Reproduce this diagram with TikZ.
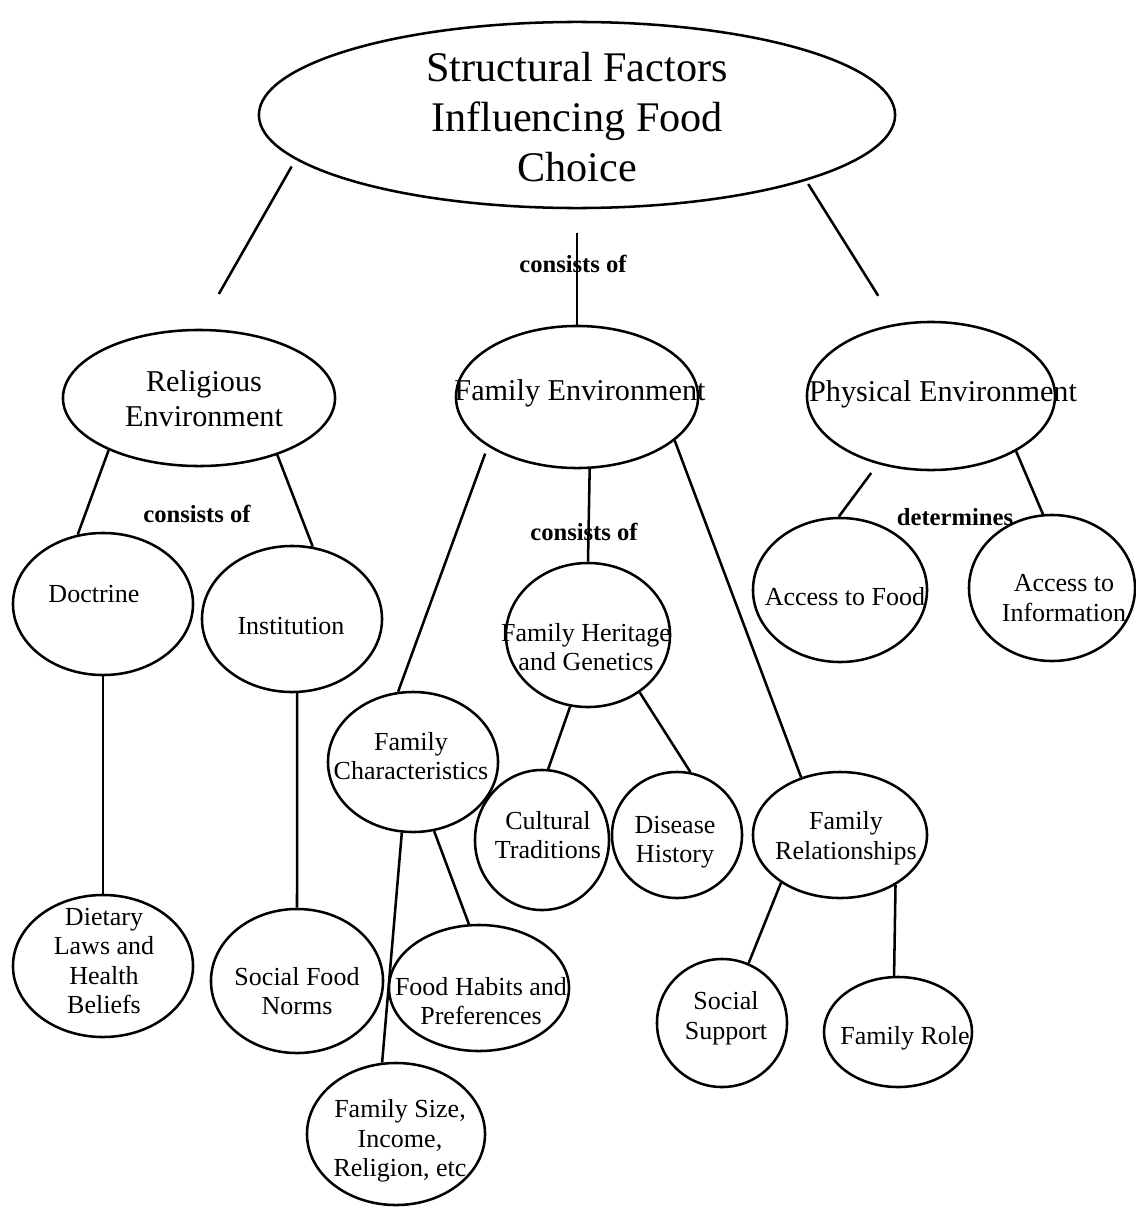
\documentclass[tikz,border=0pt]{standalone}
\usepackage{fontspec}
\setmainfont{Liberation Serif}
\usetikzlibrary{shapes.geometric}
\begin{document}
\begin{tikzpicture}[x=0.025cm,y=-0.025cm,
  bub/.style={ellipse, draw, line width=1.8pt, inner sep=0pt},
  rad/.style 2 args={minimum width=#1*0.05cm, minimum height=#2*0.05cm},
  conn/.style={line width=1.8pt},
  ttl/.style={align=center, inner sep=0pt, font=\fontsize{30}{35.5}\selectfont},
  mid/.style={align=center, inner sep=0pt, font=\fontsize{21.5}{25}\selectfont},
  sml/.style={align=center, inner sep=0pt, font=\fontsize{18.5}{21}\selectfont},
  lbl/.style={inner sep=0pt, font=\bfseries\fontsize{17.5}{20}\selectfont}
]
\useasboundingbox (0,0) rectangle (1136,1209);

% ellipses
\node[bub, rad={318}{93}] (top)   at (577,115)  {};
\node[bub, rad={136}{68}] (rel)   at (199,398)  {};
\node[bub, rad={121}{71}] (fam)   at (577,397)  {};
\node[bub, rad={124}{74}] (phys)  at (931,396)  {};
\node[bub, rad={90}{71}]  (doc)   at (103,604)  {};
\node[bub, rad={90}{73}]  (inst)  at (292,619)  {};
\node[bub, rad={90}{71}]  (diet)  at (103,966)  {};
\node[bub, rad={86}{72}]  (sfn)   at (297,981)  {};
\node[bub, rad={82}{72}]  (her)   at (588,635)  {};
\node[bub, rad={85}{70}]  (fch)   at (413,762)  {};
\node[bub, rad={90}{63}]  (fhp)   at (479,988)  {};
\node[bub, rad={89}{71}]  (fsz)   at (396,1134) {};
\node[bub, rad={67}{70}]  (cul)   at (542,840)  {};
\node[bub, rad={65}{63}]  (dis)   at (677,835)  {};
\node[bub, rad={87}{63}]  (frel)  at (840,835)  {};
\node[bub, rad={65}{64}]  (ss)    at (722,1023) {};
\node[bub, rad={74}{55}]  (frole) at (898,1032) {};
\node[bub, rad={87}{72}]  (afood) at (840,590)  {};
\node[bub, rad={83}{73}]  (ainfo) at (1052,588) {};

% texts
\node[ttl] (topT)   at (577,117)  {Structural Factors\\Influencing Food\\Choice};
\node[mid] (relT)   at (204,399)  {Religious\\Environment};
\node[mid] (famT)   at (580,393)  {Family Environment};
\node[mid] (physT)  at (943,394)  {Physical Environment};
\node[sml] (docT)   at (94,594)   {Doctrine};
\node[sml] (instT)  at (291,626)  {Institution};
\node[sml] (dietT)  at (104,961)  {Dietary\\Laws and\\Health\\Beliefs};
\node[sml] (sfnT)   at (297,991)  {Social Food\\Norms};
\node[sml] (herT)   at (586,647)  {Family Heritage\\and Genetics};
\node[sml] (fchT)   at (411,756)  {Family\\Characteristics};
\node[sml] (fhpT)   at (481,1001) {Food Habits and\\Preferences};
\node[sml] (fszT)   at (400,1141) {Family Size,\\Income,\\Religion, etc};
\node[sml] (culT)   at (548,835)  {Cultural\\Traditions};
\node[sml] (disT)   at (675,842)  {Disease\\History};
\node[sml] (frelT)  at (846,838)  {Family\\Relationships};
\node[sml] (ssT)    at (726,1018) {Social\\Support};
\node[sml] (froleT) at (905,1038) {Family Role};
\node[sml] (afoodT) at (845,597)  {Access to Food};
\node[sml] (ainfoT) at (1064,598) {Access to\\Information};

% link labels
\node[lbl] (l1) at (573,264) {consists of};
\node[lbl] (l2) at (197,514) {consists of};
\node[lbl] (l3) at (584,532) {consists of};
\node[lbl] (l4) at (955,517) {determines};

% connectors
\draw[conn, shorten <=0.2cm, shorten >=1.0cm] (top.189.5) -- (rel.90);
\draw[conn, shorten <=0.1cm, shorten >=0.825cm] (top.344.2) -- (phys.116.9);
\draw[conn, shorten <=0.6cm] (top.south) -- (fam.north);
\draw[conn] (rel.210.4) -- (doc.110.1);
\draw[conn] (rel.324.9) -- (inst.74.5);
\draw[conn] (doc.south) -- (diet.north);
\draw[conn] (inst.274) -- (sfn.north);
\draw[conn] (fam.280.4) -- (her.north);
\draw[conn, shorten <=0.19cm] (fam.209.3) -- (fch.102.3);
\draw[conn] (fam.336.1) -- (frel.124.3);
\draw[conn] (fch.261) -- (fsz.101.2);
\draw[conn] (fch.287.4) -- (fhp.99.9);
\draw[conn] (her.256.1) -- (cul.85.9);
\draw[conn] (her.312) -- (dis.78.3);
\draw[conn] (frel.219.8) -- (ss.66.8);
\draw[conn] (frel.318.4) -- (frole.94);
\draw[conn, shorten <=0.275cm] (phys.232.1) -- (afood.91.6);
\draw[conn] (phys.327.4) -- (ainfo.97);
\end{tikzpicture}
\end{document}
